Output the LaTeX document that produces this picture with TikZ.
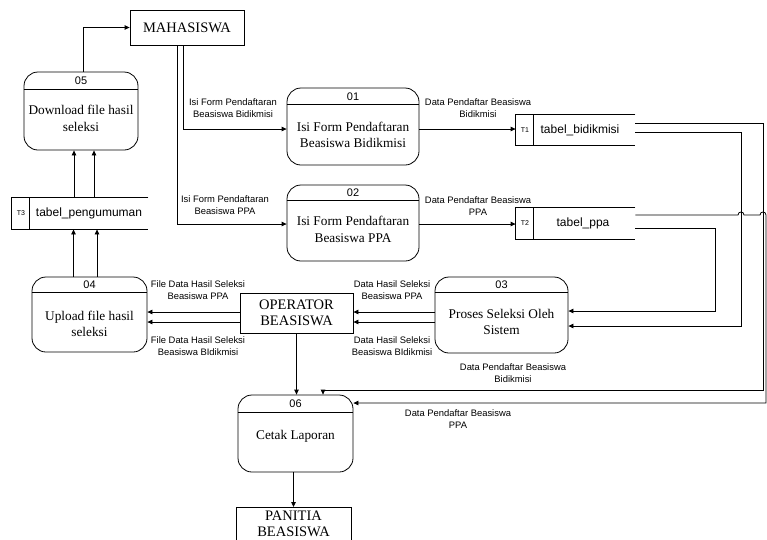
\documentclass[tikz,border=0pt]{standalone}
\usepackage{fontspec}
\setmainfont{Liberation Serif}
\setsansfont{Liberation Sans}
\usetikzlibrary{arrows.meta}
\begin{document}
\begin{tikzpicture}[x=1pt,y=-1pt,line width=0.8pt,
  proc/.style={draw,rounded corners=14pt,inner sep=0pt},
  ent/.style={draw,inner sep=0pt,font=\fontsize{14.5}{16}\selectfont,align=center},
  store/.style={inner sep=0pt},
  lbl/.style={font=\sffamily\fontsize{9.4}{11.8}\selectfont,align=center,inner sep=0pt},
  num/.style={font=\sffamily\fontsize{11}{12}\selectfont,inner sep=0pt},
  tnum/.style={font=\sffamily\fontsize{7}{8}\selectfont,inner sep=0pt},
  tname/.style={font=\sffamily\fontsize{12}{13}\selectfont,inner sep=0pt},
  ptxt/.style={font=\fontsize{13.3}{16.5}\selectfont,align=center,inner sep=0pt},
  arr/.style={-{Triangle[length=5pt,width=4.5pt]}}]
\clip (0,0) rectangle (767,539);
\fill[white] (0,0) rectangle (767,539);

% external entities
\node[ent,minimum width=114pt,minimum height=35pt] (mhs) at (187,27.5) {MAHASISWA};
\node[ent,minimum width=113pt,minimum height=40pt] (op) at (296.5,313) {OPERATOR\\BEASISWA};
\node[draw,minimum width=115pt,minimum height=38pt,anchor=north] (pan) at (293.5,507) {};
\node[ent,draw=none] (pant) at (293.5,523.5) {PANITIA\\BEASISWA};

% processes
\node[proc,minimum width=114pt,minimum height=78pt] (p05) at (81,111) {};
\node[proc,minimum width=115pt,minimum height=75pt] (p04) at (89.5,314.5) {};
\node[proc,minimum width=132pt,minimum height=77pt] (p01) at (353,126.5) {};
\node[proc,minimum width=132pt,minimum height=76pt] (p02) at (353,223) {};
\node[proc,minimum width=133pt,minimum height=76pt] (p03) at (501.5,315) {};
\node[proc,minimum width=115pt,minimum height=77pt] (p06) at (295.5,433.5) {};

\draw ([yshift=-18pt]p05.north west) -- ([yshift=-18pt]p05.north east);
\draw ([yshift=-16pt]p04.north west) -- ([yshift=-16pt]p04.north east);
\draw ([yshift=-17pt]p01.north west) -- ([yshift=-17pt]p01.north east);
\draw ([yshift=-16pt]p02.north west) -- ([yshift=-16pt]p02.north east);
\draw ([yshift=-16pt]p03.north west) -- ([yshift=-16pt]p03.north east);
\draw ([yshift=-18pt]p06.north west) -- ([yshift=-18pt]p06.north east);

\node[num] (n05) at (81,81) {05};
\node[num] (n04) at (89.5,285) {04};
\node[num] (n01) at (353,96.5) {01};
\node[num] (n02) at (353,193) {02};
\node[num] (n03) at (501.5,285) {03};
\node[num] (n06) at (295.5,404) {06};

\node[ptxt] (t05) at (81,118.5) {Download file hasil\\seleksi};
\node[ptxt] (t04) at (89.5,324) {Upload file hasil\\seleksi};
\node[ptxt] (t01) at (353,135) {Isi Form Pendaftaran\\Beasiswa Bidikmisi};
\node[ptxt] (t02) at (353,229.5) {Isi Form Pendaftaran\\Beasiswa PPA};
\node[ptxt] (t03) at (501.5,322) {Proses Seleksi Oleh\\Sistem};
\node[ptxt] (t06) at (295.5,436) {Cetak Laporan};

% data stores
\node[store,minimum width=136pt,minimum height=31pt] (t3) at (80,213.5) {};
\node[store,minimum width=119pt,minimum height=30pt] (t1) at (575.5,130) {};
\node[store,minimum width=119pt,minimum height=31pt] (t2) at (575.5,223.5) {};
\foreach \s in {t3,t1,t2}{
  \draw (\s.north east) -- (\s.north west) -- (\s.south west) -- (\s.south east);
  \draw ([xshift=18pt]\s.north west) -- ([xshift=18pt]\s.south west);
}
\node[tnum] (t3n) at (21,213.5) {T3};
\node[tname] (t3s) at (89,213.5) {tabel\_pengumuman};
\node[tnum] (t1n) at (525,130) {T1};
\node[tname] (t1s) at (580,130) {tabel\_bidikmisi};
\node[tnum] (t2n) at (525,223.5) {T2};
\node[tname] (t2s) at (583,223.5) {tabel\_ppa};

% connectors
\draw[arr] ([xshift=2pt]p05.north) |- (mhs.west);
\draw[arr] ([xshift=-6pt]t3.north) -- ([xshift=-6pt]t3.north |- p05.south);
\draw[arr] ([xshift=14pt]t3.north) -- ([xshift=14pt]t3.north |- p05.south);
\draw[arr] ([xshift=-16pt]p04.north) -- ([xshift=-16pt]p04.north |- t3.south);
\draw[arr] ([xshift=7.5pt]p04.north) -- ([xshift=7.5pt]p04.north |- t3.south);

\draw[arr] ([yshift=1pt]op.west) -- ([yshift=1pt]op.west -| p04.east);
\draw[arr] ([yshift=-9pt]op.west) -- ([yshift=-9pt]op.west -| p04.east);
\draw[arr] ([yshift=3pt]p03.west) -- ([yshift=3pt]p03.west -| op.east);
\draw[arr] ([yshift=-7pt]p03.west) -- ([yshift=-7pt]p03.west -| op.east);
\draw[arr] (op.south) -- (op.south |- p06.north);
\draw[arr] ([xshift=-2pt]p06.south) -- ([xshift=-2pt]p06.south |- pan.north);

\draw[arr] ([xshift=-4pt]mhs.south) |- ([yshift=-2.5pt]p01.west);
\draw[arr] ([xshift=-10pt]mhs.south) |- ([yshift=-1pt]p02.west);
\draw[arr] ([yshift=-2.5pt]p01.east) -- ([yshift=-2.5pt]p01.east -| t1.west);
\draw[arr] ([yshift=-1pt]p02.east) -- ([yshift=-1pt]p02.east -| t2.west);

\draw[arr] ([yshift=-2pt]t1.east) -- ++(106,0) |- ([yshift=-11pt]p03.east);
\draw[arr] ([yshift=-4.5pt]t2.east) -- ++(80,0) |- ([yshift=4pt]p03.east);
\coordinate (c1) at (763,390);
\draw[arr] ([yshift=7pt]t1.east) -| (c1) -| ([xshift=27.5pt]p06.north);
\coordinate (h1) at (738,215);
\coordinate (h2) at (760,215);
\coordinate (c2) at (766,403);
\draw[arr] ([yshift=8.5pt]t2.east) -- (h1) .. controls (738,211) and (744,211) .. (744,215)
  -- (h2) .. controls (760,211) and (766,211) .. (766,215) -- (c2) -- ([yshift=30.5pt]p06.east);

% labels
\node[lbl] (l1) at (233,108.5) {Isi Form Pendaftaran\\Beasiswa Bidikmisi};
\node[lbl] (l2) at (225,205) {Isi Form Pendaftaran\\Beasiswa PPA};
\node[lbl] (l3) at (478,108.5) {Data Pendaftar Beasiswa\\Bidikmisi};
\node[lbl] (l4) at (478,206) {Data Pendaftar Beasiswa\\PPA};
\node[lbl] (l5) at (198,290) {File Data Hasil Seleksi\\Beasiswa PPA};
\node[lbl] (l6) at (198,346.5) {File Data Hasil Seleksi\\Beasiswa BIdikmisi};
\node[lbl] (l7) at (392,290) {Data Hasil Seleksi\\Beasiswa PPA};
\node[lbl] (l8) at (392,346.5) {Data Hasil Seleksi\\Beasiswa BIdikmisi};
\node[lbl] (l9) at (513,373.5) {Data Pendaftar Beasiswa\\Bidikmisi};
\node[lbl] (l10) at (458,419) {Data Pendaftar Beasiswa\\PPA};
\end{tikzpicture}
\end{document}
